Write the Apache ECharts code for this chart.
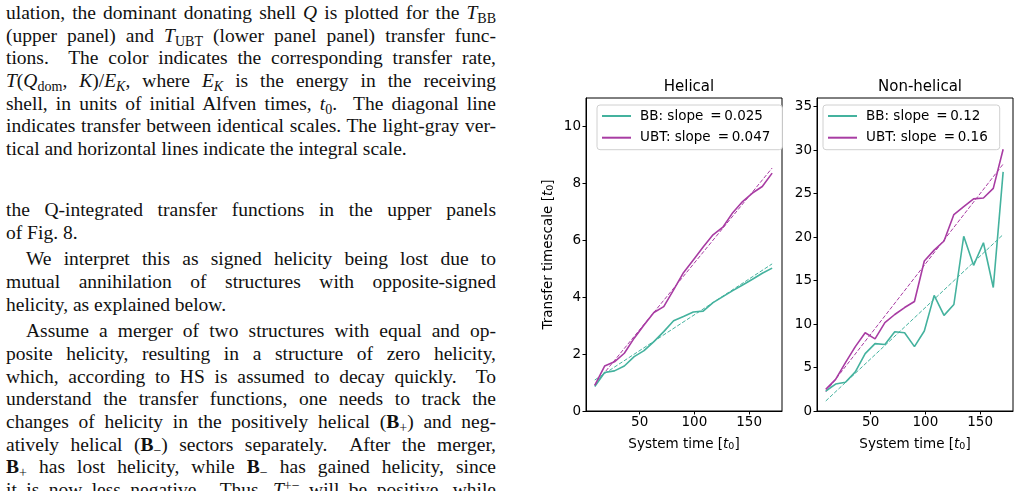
<!DOCTYPE html>
<html>
<head>
<meta charset="utf-8">
<script src="https://cdn.jsdelivr.net/npm/echarts@6/dist/echarts.min.js"></script>
<style>
  html, body { margin: 0; padding: 0; background: #fff; }
  body { width: 1020px; height: 491px; overflow: hidden; position: relative; }
  #text {
    position: absolute; left: 6px; top: 2px; width: 490px;
    font-family: "Liberation Serif", "DejaVu Serif", serif;
    font-size: 19.5px; color: #111;
  }
  #text .l { height: 22.7px; line-height: 22.7px; text-align: justify; text-align-last: justify; }
  #text .e { text-align-last: left; }
  #text .ind { text-indent: 20px; }
  #text .gap { margin-top: 4px; }
  sub, sup { font-size: 0.72em; line-height: 0; }
  sub { vertical-align: -0.25em; }
  sup { vertical-align: 0.45em; }
  #chart { position: absolute; left: 520px; top: 0; width: 500px; height: 491px; }
</style>
</head>
<body>
<div id="text">
  <div class="l">ulation, the dominant donating shell <i>Q</i> is plotted for the <i>T</i><sub>BB</sub></div>
  <div class="l">(upper panel) and <i>T</i><sub>UBT</sub> (lower panel panel) transfer func-</div>
  <div class="l">tions.&nbsp; The color indicates the corresponding transfer rate,</div>
  <div class="l"><i>T</i>(<i>Q</i><sub>dom</sub>, <i>K</i>)/<i>E<sub>K</sub></i>, where <i>E<sub>K</sub></i> is the energy in the receiving</div>
  <div class="l">shell, in units of initial Alfven times, <i>t</i><sub>0</sub>.&nbsp; The diagonal line</div>
  <div class="l">indicates transfer between identical scales. The light-gray ver-</div>
  <div class="l e">tical and horizontal lines indicate the integral scale.</div>

  <div class="l" style="margin-top:38px">the Q-integrated transfer functions in the upper panels</div>
  <div class="l e">of Fig. 8.</div>

  <div class="l ind gap">We interpret this as signed helicity being lost due to</div>
  <div class="l">mutual annihilation of structures with opposite-signed</div>
  <div class="l e">helicity, as explained below.</div>

  <div class="l ind gap">Assume a merger of two structures with equal and op-</div>
  <div class="l">posite helicity, resulting in a structure of zero helicity,</div>
  <div class="l">which, according to HS is assumed to decay quickly.&nbsp; To</div>
  <div class="l">understand the transfer functions, one needs to track the</div>
  <div class="l">changes of helicity in the positively helical (<b>B</b><sub>+</sub>) and neg-</div>
  <div class="l">atively helical (<b>B</b><sub>&minus;</sub>) sectors separately.&nbsp; After the merger,</div>
  <div class="l"><b>B</b><sub>+</sub> has lost helicity, while <b>B</b><sub>&minus;</sub> has gained helicity, since</div>
  <div class="l">it is now less negative.&nbsp; Thus, <i>T</i><sup>+&minus;</sup> will be positive, while</div>
</div>
<div id="chart"></div>
<script>
// system time of each sample [t0]
const times = [9, 18, 27, 36, 45, 54, 63, 72, 81, 90, 99, 108, 117, 126, 135, 144, 153, 162, 171];

// helical run: transfer timescale [t0]
const helicalBB  = [0.86, 1.35, 1.41, 1.58, 1.91, 2.12, 2.44, 2.79, 3.17, 3.32, 3.48, 3.51, 3.81, 4.02, 4.23, 4.43, 4.63, 4.84, 5.02];
const helicalUBT = [0.90, 1.58, 1.73, 2.03, 2.56, 3.02, 3.46, 3.67, 4.26, 4.86, 5.31, 5.76, 6.19, 6.46, 6.97, 7.36, 7.66, 7.89, 8.36];

// non-helical run
const nonhelBB  = [2.30, 3.10, 3.30, 4.50, 6.60, 7.75, 7.65, 9.12, 9.00, 7.40, 9.20, 13.3, 11.0, 12.25, 20.1, 16.75, 19.35, 14.2, 27.5];
const nonhelUBT = [2.49, 3.64, 5.56, 7.40, 9.00, 8.30, 10.16, 11.1, 11.9, 12.6, 17.25, 18.5, 19.55, 22.6, 23.5, 24.4, 24.5, 25.6, 30.1];

// linear fits (dashed), end points
const fitTimes = [9, 171];
const helicalBBFit  = [1.09, 5.17];
const helicalUBTFit = [0.93, 8.54];
const nonhelBBFit   = [1.15, 20.3];
const nonhelUBTFit  = [2.2, 28.4];

const legendHel    = ['BB: slope \u2009=\u20090.025', 'UBT: slope \u2009=\u20090.047'];
const legendNonhel = ['BB: slope \u2009=\u20090.12', 'UBT: slope \u2009=\u20090.16'];

const xTicks = [50, 100, 150];
const helYTicks = [0, 2, 4, 6, 8, 10];
const nonhelYTicks = [0, 5, 10, 15, 20, 25, 30, 35];

const teal = '#44b29e';
const purple = '#a83ca3';

const pairs = (xs, ys) => xs.map((x, i) => [x, ys[i]]);

const chart = echarts.init(document.getElementById('chart'));

const font = 'DejaVu Sans';
const txt = { fontFamily: font, fontSize: 13.5, color: '#000' };
const nameRich = {
  i: { fontFamily: font, fontSize: 13.5, fontStyle: 'italic', color: '#000' },
  s: { fontFamily: font, fontSize: 9.5, color: '#000', padding: [6, 0, 0, 0] }
};

const xAxisBase = (gridIndex) => ({
  type: 'value', gridIndex, min: 1, max: 180,
  name: 'System time [{i|t}{s|0}]',
  nameLocation: 'middle', nameGap: 25,
  nameTextStyle: Object.assign({}, txt, { rich: nameRich }),
  axisLine: { show: true, onZero: false, lineStyle: { color: '#000', width: 1 } },
  axisTick: { show: true, length: 3.5, customValues: xTicks, lineStyle: { color: '#000' } },
  axisLabel: Object.assign({ customValues: xTicks, margin: 4 }, txt),
  splitLine: { show: false }
});

const yAxisBase = (gridIndex, max, ticks) => ({
  type: 'value', gridIndex, min: 0, max,
  axisLine: { show: true, onZero: false, lineStyle: { color: '#000', width: 1 } },
  axisTick: { show: true, length: 3.5, customValues: ticks, lineStyle: { color: '#000' } },
  axisLabel: Object.assign({ customValues: ticks, margin: 5 }, txt),
  splitLine: { show: false }
});

const line = (name, xi, data, color) => ({
  name, type: 'line', xAxisIndex: xi, yAxisIndex: xi,
  data, symbol: 'none', smooth: false,
  lineStyle: { color, width: 1.6 }, itemStyle: { color },
  z: 3, silent: true
});

const fit = (xi, data, color) => ({
  type: 'line', xAxisIndex: xi, yAxisIndex: xi,
  data, symbol: 'none',
  lineStyle: { color, width: 1, type: [4, 1.8] }, itemStyle: { color },
  z: 2, silent: true
});

const legendBase = (left, data) => ({
  left, top: 105, orient: 'vertical',
  data,
  icon: 'rect',
  itemWidth: 29, itemHeight: 2, itemGap: 5.7,
  padding: [3, 12, 4, 5],
  backgroundColor: '#fff',
  borderColor: '#d0d0d0', borderWidth: 1, borderRadius: 3,
  textStyle: Object.assign({}, txt, { padding: [0, 0, 0, 4], lineHeight: 16 }),
  selectedMode: false
});

const option = {
  animation: false,
  backgroundColor: 'transparent',
  title: [
    { text: 'Helical', left: 164, top: 75, textAlign: 'center', textStyle: { fontFamily: font, fontSize: 15, fontWeight: 'normal', color: '#000' } },
    { text: 'Non-helical', left: 395, top: 75, textAlign: 'center', textStyle: { fontFamily: font, fontSize: 15, fontWeight: 'normal', color: '#000' } }
  ],
  grid: [
    { left: 66, top: 98, width: 196, height: 313, show: true, borderColor: '#000', borderWidth: 1 },
    { left: 297, top: 98, width: 196, height: 313, show: true, borderColor: '#000', borderWidth: 1 }
  ],
  legend: [legendBase(77, legendHel), legendBase(303, legendNonhel)],
  xAxis: [xAxisBase(0), xAxisBase(1)],
  yAxis: [
    Object.assign(yAxisBase(0, 11, helYTicks), {
      name: 'Transfer timescale [{i|t}{s|0}]',
      nameLocation: 'middle', nameGap: 30,
      nameTextStyle: Object.assign({}, txt, { rich: nameRich })
    }),
    yAxisBase(1, 36, nonhelYTicks)
  ],
  series: [
    fit(0, pairs(fitTimes, helicalBBFit), teal),
    fit(0, pairs(fitTimes, helicalUBTFit), purple),
    line(legendHel[0], 0, pairs(times, helicalBB), teal),
    line(legendHel[1], 0, pairs(times, helicalUBT), purple),
    fit(1, pairs(fitTimes, nonhelBBFit), teal),
    fit(1, pairs(fitTimes, nonhelUBTFit), purple),
    line(legendNonhel[0], 1, pairs(times, nonhelBB), teal),
    line(legendNonhel[1], 1, pairs(times, nonhelUBT), purple)
  ]
};

chart.setOption(option);
</script>
</body>
</html>
